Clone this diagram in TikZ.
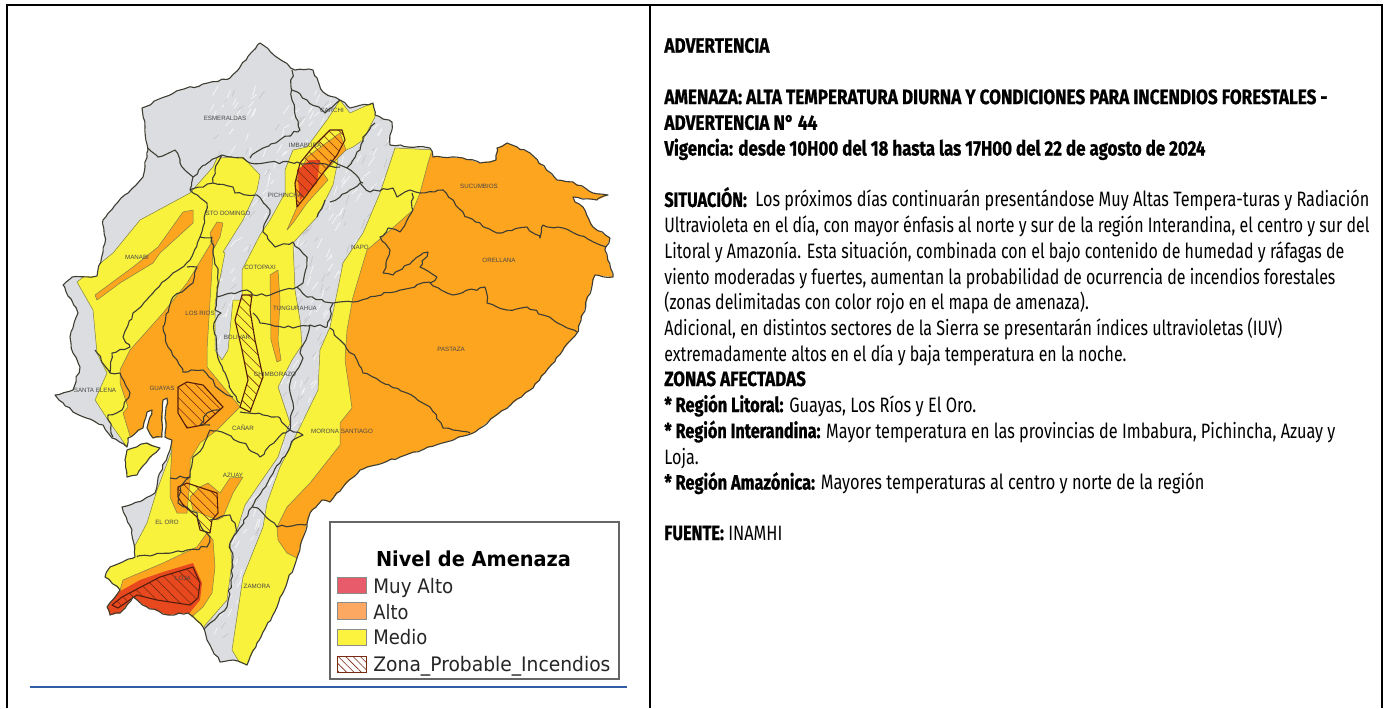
\documentclass[tikz,border=0pt]{standalone}
\usepackage{fontspec}
\usepackage{graphicx}
\usetikzlibrary{patterns.meta,decorations.pathmorphing}
\newfontfamily\bodyf[FakeStretch=0.68,BoldFeatures={FakeBold=0.7}]{Fira Sans}
\newfontfamily\legf{DejaVu Sans}
\newfontfamily\mapf{Liberation Sans}
\newlength\pxu \setlength\pxu{.5pt}
\newcommand\fitline[2]{\resizebox{#1\pxu}{\height}{#2}}
\definecolor{mgray}{HTML}{DCDDE0}
\definecolor{myel}{HTML}{F8F23C}
\definecolor{mora}{HTML}{FDA51F}
\definecolor{mred}{HTML}{E8481D}
\definecolor{mline}{HTML}{3E3D33}
\definecolor{medge}{HTML}{7F7F45}
\definecolor{hatchc}{HTML}{7A2A12}
\definecolor{legR}{HTML}{E85B6A}
\definecolor{legO}{HTML}{FDA862}
\definecolor{legY}{HTML}{FBF33E}
\definecolor{rulec}{HTML}{2F5DA8}
\def\islandpath{(127,450) -- (147,443) -- (160,448) -- (142,467) -- (137,475) -- (127,477) -- (125,460) -- cycle}
\def\countrypath{(260,43) -- (275,56) -- (295,70) -- (313,70) -- (323,92) -- (340,100) -- (350,108) -- (373,103) -- (375,115) -- (392,122) -- (390,145) -- (430,148) -- (433,157) -- (463,158) -- (480,163) -- (496,160) -- (497,148) -- (507,143) -- (530,153) -- (557,180) -- (573,182) -- (593,193) -- (608,195) -- (597,200) -- (573,197) -- (575,202) -- (583,207) -- (593,227) -- (610,238) -- (605,250) -- (613,277) -- (595,275) -- (577,333) -- (563,350) -- (533,388) -- (473,433) -- (360,470) -- (343,487) -- (330,502) -- (322,500) -- (310,513) -- (297,558) -- (277,607) -- (257,643) -- (247,665) -- (233,660) -- (220,662) -- (207,640) -- (203,627) -- (188,613) -- (168,615) -- (147,607) -- (133,597) -- (120,613) -- (110,615) -- (107,607) -- (120,590) -- (105,577) -- (110,567) -- (135,557) -- (132,530) -- (122,507) -- (143,500) -- (155,493) -- (158,478) -- (170,450) -- (172,440) -- (165,437) -- (167,398) -- (163,400) -- (162,437) -- (153,438) -- (147,428) -- (152,410) -- (147,412) -- (143,428) -- (128,438) -- (127,447) -- (112,438) -- (103,425) -- (73,412) -- (55,395) -- (73,390) -- (80,367) -- (73,353) -- (70,337) -- (78,313) -- (63,285) -- (72,277) -- (97,276) -- (105,243) -- (103,220) -- (118,202) -- (143,177) -- (148,150) -- (145,127) -- (142,108) -- (180,90) -- (230,78) -- cycle \islandpath}
\tikzset{
  zoneY/.style={fill=myel,draw=medge,line width=.25pt,line join=round},
  zoneO/.style={fill=mora,draw=medge,line width=.25pt,line join=round},
  zoneR/.style={fill=mred,draw=none},
  hatchz/.style={pattern={Lines[angle=-45,distance=3.6pt,line width=.3pt]},pattern color=hatchc,draw=hatchc!70!black,line width=.55pt,line join=round},
  provline/.style={draw=mline,line width=.55pt,line join=round,decorate,decoration={random steps,segment length=2.4pt,amplitude=.7pt}},
  coastline/.style={draw=mline,line width=.55pt,line join=round,decorate,decoration={random steps,segment length=2.4pt,amplitude=.5pt}},
  maplabel/.style={font=\mapf\fontsize{3.1}{3.6}\selectfont,text=black!72,inner sep=0pt},
  textline/.style={anchor=base west,inner sep=0pt,yshift=-3.5pt,font=\bodyf\fontsize{10.4}{12}\selectfont,text=black},
  legtext/.style={anchor=base west,inner sep=0pt,yshift=-3.5pt,font=\legf\fontsize{10}{11}\selectfont,text=black!85},
  swatch/.style={draw=black!45,line width=.3pt},
  frameline/.style={draw=black,line width=1pt}
}
\begin{document}
\begin{tikzpicture}[x=.5pt,y=-.5pt]
\useasboundingbox (0,0) rectangle (1386,708);
\fill[white] (0,0) rectangle (1386,708);
% map base
\fill[mgray] \countrypath;
\begin{scope}
\clip \countrypath;
\pgfmathsetseed{4217}
\foreach \i in {1,...,900}{
  \pgfmathsetmacro\px{210+rnd*200}
  \pgfmathsetmacro\py{95+rnd*550}
  \pgfmathsetmacro\dx{2+rnd*4}
  \pgfmathsetmacro\dy{3+rnd*7}
  \pgfmathparse{mod(\i,3)==0?1:0}
  \ifdim\pgfmathresult pt=1pt
    \draw[black!30,line width=.28pt,opacity=.6] (\px,\py) -- ++(\dx,-\dy);
  \else
    \draw[white,line width=.4pt,opacity=.7] (\px,\py) -- ++(\dx,-\dy);
  \fi
}
% yellow zones
\filldraw[zoneY] (77,282) -- (113,253) -- (140,220) -- (190,193) -- (213,167) -- (217,158) -- (243,157) -- (260,175) -- (257,190) -- (243,220) -- (223,252) -- (225,253) -- (215,303) -- (215,350) -- (222,360) -- (228,350) -- (233,300) -- (242,300) -- (242,270) -- (260,235) -- (270,220) -- (285,193) -- (285,170) -- (293,150) -- (307,147) -- (327,120) -- (340,100) -- (350,113) -- (372,103) -- (375,108) -- (375,117) -- (363,140) -- (353,147) -- (330,157) -- (338,160) -- (333,185) -- (317,217) -- (293,243) -- (295,290) -- (300,320) -- (302,345) -- (292,360) -- (278,387) -- (290,423) -- (287,430) -- (278,457) -- (260,483) -- (245,505) -- (238,527) -- (230,542) -- (232,563) -- (227,600) -- (207,623) -- (203,628) -- (188,640) -- (100,640) -- (95,575) -- (130,555) -- (147,523) -- (157,490) -- (172,450) -- (160,442) -- (127,447) -- (108,420) -- (95,400) -- (107,373) -- (97,353) -- (93,310) -- cycle;
\fill[myel] \islandpath;
\filldraw[zoneY] (395,148) -- (380,193) -- (363,233) -- (343,263) -- (337,293) -- (330,327) -- (320,350) -- (318,390) -- (300,427) -- (280,467) -- (267,503) -- (263,527) -- (243,577) -- (232,650) -- (247,675) -- (300,575) -- (330,480) -- (360,420) -- (435,150) -- cycle;
% orange zones
\filldraw[zoneO] (435,140) -- (428,163) -- (420,193) -- (413,210) -- (387,233) -- (367,250) -- (353,297) -- (347,330) -- (345,360) -- (352,408) -- (340,423) -- (340,445) -- (310,483) -- (287,507) -- (277,527) -- (278,540) -- (287,553) -- (297,558) -- (305,565) -- (345,510) -- (490,450) -- (640,330) -- (650,100) -- cycle;
\filldraw[zoneO] (97,300) -- (95,295) -- (133,267) -- (158,247) -- (183,212) -- (193,210) -- (193,223) -- (160,253) -- (153,263) -- (120,283) -- cycle;
\filldraw[zoneO] (210,233) -- (217,222) -- (223,223) -- (220,237) -- (213,250) -- cycle;
\filldraw[zoneO] (130,350) -- (163,313) -- (187,283) -- (213,240) -- (213,253) -- (207,350) -- (207,367) -- (240,407) -- (217,430) -- (200,443) -- (190,460) -- (190,480) -- (187,513) -- (177,513) -- (170,497) -- (170,483) -- (172,447) -- (150,445) -- (130,436) -- (123,413) -- (128,407) -- (120,383) -- (120,370) -- cycle;
\filldraw[zoneO] (200,487) -- (208,483) -- (220,493) -- (230,478) -- (243,477) -- (233,493) -- (223,517) -- (217,520) -- (193,510) -- (190,497) -- cycle;
\filldraw[zoneO] (120,590) -- (123,580) -- (163,563) -- (197,547) -- (207,533) -- (213,540) -- (215,567) -- (212,593) -- (203,607) -- (188,620) -- (120,620) -- cycle;
\filldraw[zoneO] (287,230) -- (297,207) -- (295,183) -- (307,157) -- (340,133) -- (346,150) -- (323,173) -- (328,180) -- (307,203) -- (293,223) -- cycle;
\filldraw[zoneO] (270,275) -- (278,270) -- (280,300) -- (278,340) -- (281,360) -- (277,362) -- (271,340) -- cycle;
% red zones
\fill[zoneR] (100,610) -- (117,593) -- (140,580) -- (163,572) -- (193,563) -- (202,583) -- (200,600) -- (188,615) -- (168,620) -- (147,612) -- (133,600) -- (120,620) -- (100,620) -- cycle;
\fill[zoneR] (297,170) -- (300,200) -- (317,183) -- (320,160) -- (310,160) -- cycle;
% fire zones
\filldraw[hatchz] (112,605) -- (122,597) -- (160,577) -- (193,567) -- (200,583) -- (198,598) -- (190,605) -- (157,600) -- (137,595) -- (118,608) -- cycle;
\filldraw[hatchz] (178,387) -- (187,382) -- (203,385) -- (223,407) -- (203,425) -- (187,428) -- (178,413) -- cycle;
\filldraw[hatchz] (242,295) -- (252,295) -- (250,310) -- (255,340) -- (263,377) -- (250,412) -- (240,407) -- (248,380) -- (242,350) -- (235,320) -- cycle;
\filldraw[hatchz] (178,487) -- (187,483) -- (217,493) -- (218,513) -- (212,520) -- (210,533) -- (200,530) -- (197,517) -- (183,505) -- (178,497) -- cycle;
\filldraw[hatchz] (295,183) -- (297,207) -- (305,197) -- (323,173) -- (337,155) -- (345,140) -- (342,130) -- (330,130) -- (313,147) -- (300,163) -- cycle;
% province boundaries
\draw[provline]
 (148,148) -- (158,157) -- (175,150) -- (180,163) -- (193,177) -- (190,190)
 (193,177) -- (205,165) -- (222,155) -- (243,158) -- (250,163) -- (297,162) -- (340,167)
 (250,158) -- (263,148) -- (300,130) -- (292,100) -- (292,70)
 (292,90) -- (307,100) -- (325,113) -- (340,100)
 (190,190) -- (213,183) -- (233,187) -- (235,193) -- (257,195) -- (270,210) -- (263,232) -- (275,247) -- (293,242) -- (307,257) -- (303,283) -- (297,287)
 (213,183) -- (215,170) -- (222,155)
 (190,190) -- (207,203) -- (203,227) -- (200,237) -- (212,237) -- (213,250) -- (218,273) -- (215,310) -- (221,313) -- (214,323) -- (217,353) -- (223,370) -- (233,393) -- (240,403)
 (200,237) -- (190,260) -- (173,273) -- (153,293) -- (133,313) -- (123,337) -- (130,347) -- (112,353) -- (110,373) -- (120,373) -- (130,393) -- (122,410) -- (108,415) -- (113,437)
 (95,350) -- (110,373)
 (187,267) -- (197,267) -- (193,283) -- (173,297) -- (163,327) -- (168,347) -- (177,360) -- (183,372) -- (203,370) -- (220,390) -- (233,397)
 (217,297) -- (247,290) -- (253,295) -- (270,295) -- (297,287) -- (307,297) -- (333,303) -- (353,302) -- (430,282)
 (253,313) -- (260,323) -- (293,328) -- (310,325) -- (327,327) -- (333,303)
 (310,325) -- (300,353) -- (303,358) -- (290,383) -- (293,403) -- (290,430)
 (240,412) -- (263,415) -- (280,418) -- (290,430) -- (283,433) -- (260,457) -- (243,443) -- (222,432) -- (210,430) -- (203,447) -- (193,457) -- (190,477) -- (170,478)
 (190,477) -- (180,487) -- (178,503) -- (187,507) -- (197,513) -- (203,530) -- (210,537) -- (207,547) -- (187,550) -- (137,557)
 (210,520) -- (218,518) -- (230,515) -- (235,523) -- (237,532) -- (230,543) -- (233,567) -- (227,607) -- (217,617) -- (203,630)
 (237,532) -- (252,507) -- (260,510) -- (277,527) -- (310,523)
 (252,507) -- (280,463) -- (293,440) -- (303,435) -- (290,430)
 (220,410) -- (207,413) -- (200,425) -- (210,425)
 (330,202) -- (350,190) -- (360,183) -- (370,192) -- (393,188) -- (397,197) -- (410,190) -- (420,193) -- (443,190) -- (467,217) -- (497,233) -- (527,227) -- (540,238) -- (543,225) -- (563,228) -- (607,247)
 (325,200) -- (317,217)
 (412,193) -- (413,210) -- (400,232) -- (388,228) -- (380,237) -- (390,250) -- (383,273) -- (393,275) -- (423,253) -- (428,252) -- (420,267) -- (437,277) -- (430,283) -- (453,295) -- (485,287) -- (487,303) -- (507,310) -- (527,307) -- (577,332)
 (330,160) -- (347,168) -- (363,183)
 (347,168) -- (360,150) -- (363,137) -- (375,123)
 (330,328) -- (340,340) -- (345,345) -- (357,360) -- (363,373) -- (407,393) -- (430,407) -- (443,428) -- (470,433);
\end{scope}
% coast and frontier
\draw[coastline] \countrypath;
% map labels
\node[maplabel] (lEsm) at (225,118) {ESMERALDAS};
\node[maplabel] (lCar) at (332,110) {CARCHI};
\node[maplabel] (lImb) at (305,145) {IMBABURA};
\node[maplabel] (lPic) at (285,195) {PICHINCHA};
\node[maplabel] (lSto) at (228,213) {STO DOMINGO};
\node[maplabel] (lMan) at (137,257) {MANABI};
\node[maplabel] (lCot) at (260,267) {COTOPAXI};
\node[maplabel] (lTun) at (295,308) {TUNGURAHUA};
\node[maplabel] (lRio) at (200,313) {LOS RIOS};
\node[maplabel] (lBol) at (237,337) {BOLIVAR};
\node[maplabel] (lChi) at (275,374) {CHIMBORAZO};
\node[maplabel] (lSan) at (95,390) {SANTA ELENA};
\node[maplabel] (lGua) at (162,388) {GUAYAS};
\node[maplabel] (lCan) at (243,428) {CAÑAR};
\node[maplabel] (lAzu) at (233,475) {AZUAY};
\node[maplabel] (lOro) at (167,522) {EL ORO};
\node[maplabel] (lLoj) at (183,578) {LOJA};
\node[maplabel] (lZam) at (257,586) {ZAMORA};
\node[maplabel] (lMor) at (342,431) {MORONA SANTIAGO};
\node[maplabel] (lNap) at (360,247) {NAPO};
\node[maplabel] (lSuc) at (479,186) {SUCUMBIOS};
\node[maplabel] (lOre) at (499,260) {ORELLANA};
\node[maplabel] (lPas) at (451,349) {PASTAZA};
% legend
\draw[draw=black!60,line width=.75pt,fill=white] (330,522) rectangle (619,679);
\node[inner sep=0pt,text=black,font=\legf\bfseries\fontsize{10.3}{12}\selectfont] (legT) at (473.5,559) {\fitline{195}{Nivel de Amenaza}};
\filldraw[swatch,fill=legR] (337,577) rectangle (366,593);
\filldraw[swatch,fill=legO] (337,602) rectangle (366,619);
\filldraw[swatch,fill=legY] (337,629) rectangle (366,645);
\filldraw[draw=hatchc,line width=.4pt,pattern={Lines[angle=-45,distance=2.6pt,line width=.3pt]},pattern color=hatchc] (337,656) rectangle (366,672);
\node[legtext] (leg1) at (373,586) {\fitline{80}{Muy Alto}};
\node[legtext] (leg2) at (373,612) {\fitline{35}{Alto}};
\node[legtext] (leg3) at (373,637) {\fitline{54}{Medio}};
\node[legtext] (leg4) at (373,664) {\fitline{237}{Zona\_Probable\_Incendios}};
\draw[draw=rulec,line width=.6pt] (30,687) -- (627,687);
% table frame
\draw[frameline] (7,708) -- (7,5) -- (1382,5) -- (1382,708);
\draw[frameline] (650,5) -- (650,708);
% text
\node[textline] (t1) at (664,45.7) {\fitline{105}{\bfseries ADVERTENCIA}};
\node[textline] (t2) at (664,97.1) {\fitline{663}{\bfseries AMENAZA: ALTA TEMPERATURA DIURNA Y CONDICIONES PARA INCENDIOS FORESTALES -}};
\node[textline] (t3) at (664,122.8) {\fitline{153}{\bfseries ADVERTENCIA N° 44}};
\node[textline] (t4) at (664,148.5) {\fitline{541}{\bfseries Vigencia: desde 10H00 del 18 hasta las 17H00 del 22 de agosto de 2024}};
\node[textline] (t5) at (664,199.9) {\fitline{705}{\textbf{SITUACIÓN:}\ \ Los próximos días continuarán presentándose Muy Altas Tempera-turas y Radiación}};
\node[textline] (t6) at (664,225.6) {\fitline{705}{Ultravioleta en el día, con mayor énfasis al norte y sur de la región Interandina, el centro y sur del}};
\node[textline] (t7) at (664,251.3) {\fitline{680}{Litoral y Amazonía. Esta situación, combinada con el bajo contenido de humedad y ráfagas de}};
\node[textline] (t8) at (664,277) {\fitline{671}{viento moderadas y fuertes, aumentan la probabilidad de ocurrencia de incendios forestales}};
\node[textline] (t9) at (664,302.7) {\fitline{424.5}{(zonas delimitadas con color rojo en el mapa de amenaza).}};
\node[textline] (t10) at (664,328.4) {\fitline{618}{Adicional, en distintos sectores de la Sierra se presentarán índices ultravioletas (IUV)}};
\node[textline] (t11) at (664,354) {\fitline{462}{extremadamente altos en el día y baja temperatura en la noche.}};
\node[textline] (t12) at (664,379) {\fitline{141.5}{\bfseries ZONAS AFECTADAS}};
\node[textline] (t13) at (664,405) {\fitline{312}{\textbf{* Región Litoral:} Guayas, Los Ríos y El Oro.}};
\node[textline] (t14) at (664,431) {\fitline{671}{\textbf{* Región Interandina:} Mayor temperatura en las provincias de Imbabura, Pichincha, Azuay y}};
\node[textline] (t15) at (664,457) {\fitline{34.4}{Loja.}};
\node[textline] (t16) at (664,482.6) {\fitline{540}{\textbf{* Región Amazónica:} Mayores temperaturas al centro y norte de la región}};
\node[textline] (t17) at (664,533) {\fitline{118}{\textbf{FUENTE:} INAMHI}};
\end{tikzpicture}
\end{document}
